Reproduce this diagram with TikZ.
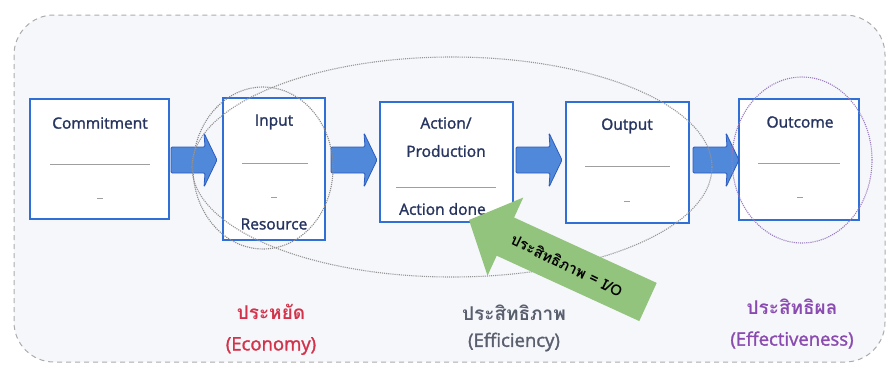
\documentclass[tikz,border=0pt]{standalone}
\usepackage{fontspec}
\setmainfont{Open Sans}
\newfontfamily\medfont{Open Sans}[FakeBold=1.6]
\newfontfamily\thaifont[Script=Thai]{Loma}
\usetikzlibrary{shapes.geometric,calc}
\definecolor{bgfill}{HTML}{F6F7FB}
\definecolor{boxblue}{HTML}{2F6FD6}
\definecolor{navy}{HTML}{26345F}
\definecolor{arrfill}{HTML}{5088DA}
\definecolor{arrdraw}{HTML}{2D5CC0}
\definecolor{greenarr}{HTML}{93C47D}
\definecolor{econred}{HTML}{D2334A}
\definecolor{effgray}{HTML}{5A5F6E}
\definecolor{effpurple}{HTML}{8A4BB0}
\definecolor{ringgray}{HTML}{8A8A8A}
\definecolor{ringpurple}{HTML}{9A7BBF}
\begin{document}
\begin{tikzpicture}[x=1pt,y=-1pt,
  box/.style={draw=boxblue, line width=1.8pt, fill=white},
  lbl/.style={font=\medfont\fontsize{15.5}{17}\selectfont, text=navy, inner sep=0},
  rulel/.style={draw=gray!75, line width=0.8pt},
  barrowp/.style={draw=arrdraw, line width=0.8pt, fill=arrfill, rounded corners=1.2pt},
  barr/.pic={\path[barrowp] (0,-13) -- (34,-13) -- (33,-27) -- (46,0) -- (33,27) -- (34,13) -- (0,13) -- cycle;},
  ring/.style={ellipse, draw, densely dotted, line width=1.1pt, inner sep=0},
  thaibig/.style={font=\thaifont\bfseries\fontsize{19}{21}\selectfont, inner sep=0},
  latbig/.style={font=\medfont\fontsize{18.5}{20}\selectfont, inner sep=0}]
\useasboundingbox (0,0) rectangle (891,370);
% background
\draw[dash pattern=on 5pt off 4pt, draw=gray!65, line width=1pt, fill=bgfill, rounded corners=40pt]
  (14,15) rectangle (885,362);
% boxes
\draw[box] (30,99) rectangle (169,219);
\draw[box] (223,98) rectangle (325,240);
\draw[box] (380,102) rectangle (513,222);
\draw[box] (566,102) rectangle (689,223);
\draw[box] (739,99) rectangle (859,220);
\coordinate (cmR) at (169,160);
\coordinate (inL) at (223,160);
\coordinate (inR) at (325,160);
\coordinate (acL) at (380,160);
\coordinate (acR) at (513,160);
\coordinate (ouL) at (566,160);
\coordinate (ouR) at (689,160);
\coordinate (ocL) at (739,160);
% box contents
\node[lbl] (t1) at (100,123) {Commitment};
\draw[rulel] (50,164) -- (150,164);
\draw[rulel] (97,198) -- (103,198);
\node[lbl] (t2) at (274,122) {Input};
\draw[rulel] (242,163) -- (308,163);
\draw[rulel] (271,197) -- (277,197);
\node[lbl] (t3) at (274,224) {Resource};
\node[lbl] (t4) at (446,123) {Action/};
\node[lbl] (t5) at (446,151) {Production};
\draw[rulel] (396,187) -- (496,187);
\node[lbl, anchor=west] (t6) at (399,209) {Action done};
\node[lbl] (t7) at (627,126) {Output};
\draw[rulel] (585,166) -- (670,166);
\draw[rulel] (624,201) -- (630,201);
\node[lbl] (t8) at (800,122) {Outcome};
\draw[rulel] (758,163) -- (840,163);
\draw[rulel] (797,197) -- (803,197);
% block arrows between boxes
\pic (a1) at ($(cmR)+(2,0)$) {barr};
\pic (a2) at ($(inR)+(6,0)$) {barr};
\pic (a3) at ($(acR)+(3,0)$) {barr};
\pic (a4) at ($(ouR)+(4,0)$) {barr};
% rings
\node[ring, draw=ringgray!90, minimum width=520pt, minimum height=220pt] (effring) at (452,167) {};
\node[ring, draw=ringgray, minimum width=140pt, minimum height=162pt] (ecoring) at (263,168) {};
\node[ring, draw=ringpurple, minimum width=140pt, minimum height=166pt] (outring) at (802,160) {};
% green arrow
\fill[greenarr] (469,220) -- (523.3,197.5) -- (514.1,217.5) -- (656.7,282.9)
  -- (639.3,321.1) -- (496.7,255.7) -- (487.5,275.7) -- cycle;
\node[font=\thaifont\bfseries\fontsize{15}{17}\selectfont, rotate=-26, inner sep=0] (gtext) at (567,265)
  {ประสิทธิภาพ = I/O};
% bottom labels
\node[thaibig, text=econred] (l1) at (271,312) {ประหยัด};
\node[latbig, text=econred] (l2) at (271,346) {(Economy)};
\node[thaibig, text=effgray] (l3) at (514,313) {ประสิทธิภาพ};
\node[latbig, text=effgray] (l4) at (514,342) {(Efficiency)};
\node[thaibig, text=effpurple] (l5) at (792,307) {ประสิทธิผล};
\node[latbig, text=effpurple] (l6) at (792,340) {(Effectiveness)};
\end{tikzpicture}
\end{document}
